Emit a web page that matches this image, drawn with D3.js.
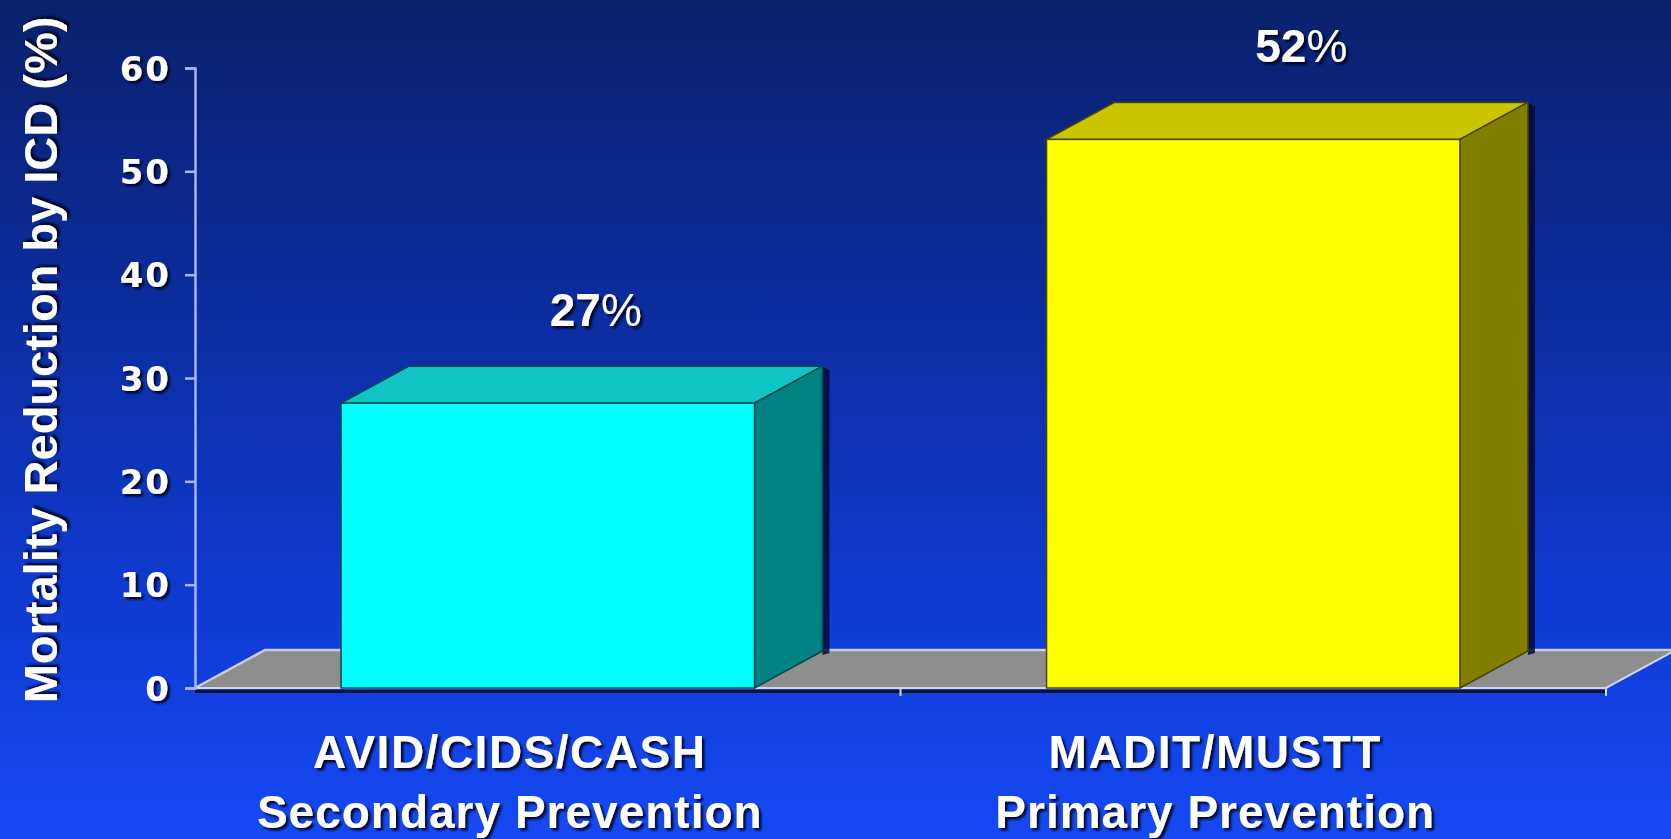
<!DOCTYPE html>
<html>
<head>
<meta charset="utf-8">
<script src="https://cdn.jsdelivr.net/npm/d3@7"></script>
<style>
  html, body { margin: 0; padding: 0; background: #0a216c; }
  svg { display: block; }
  text { font-family: "Liberation Sans", Arial, sans-serif; font-weight: bold; fill: #ffffff; }
</style>
</head>
<body>
<svg id="chart" width="1671" height="839"></svg>
<script>
// chart data
const categories = ["AVID/CIDS/CASH", "MADIT/MUSTT"];
const subtitles = ["Secondary Prevention", "Primary Prevention"];
const values = [27, 52];
const valueLabels = ["27", "52"];
const yTicks = [0, 10, 20, 30, 40, 50, 60];
const yTitle = "Mortality Reduction by ICD (%)";

// face colours: front, top, side, outline
const palette = [
  ["#00ffff", "#10c4c4", "#008282", "#004a4a"],
  ["#ffff00", "#cbc500", "#827e00", "#4a4600"]
];

const W = 1671, H = 839;
const x0 = 195, x1 = 1606, base = 688;
const dx = 68, dy = -37;

const svg = d3.select("#chart");
const defs = svg.append("defs");

const grad = defs.append("linearGradient").attr("id", "bg")
  .attr("x1", 0).attr("y1", 0).attr("x2", 0).attr("y2", 1);
grad.append("stop").attr("offset", 0).attr("stop-color", "#0a216c");
grad.append("stop").attr("offset", 0.35).attr("stop-color", "#0c2c9c");
grad.append("stop").attr("offset", 0.7).attr("stop-color", "#0f3ad0");
grad.append("stop").attr("offset", 1).attr("stop-color", "#1549f4");

const sh = defs.append("filter").attr("id", "shadow")
  .attr("x", "-10%").attr("y", "-20%").attr("width", "130%").attr("height", "150%");
sh.append("feDropShadow").attr("dx", 2.5).attr("dy", 2.5)
  .attr("stdDeviation", 1).attr("flood-color", "#000018").attr("flood-opacity", 0.9);

svg.append("rect").attr("width", W).attr("height", H).attr("fill", "url(#bg)");

// scales
const x = d3.scaleBand().domain(categories).range([x0, x1])
  .paddingInner(0.414).paddingOuter(0.207);
const y = d3.scaleLinear().domain([0, 60]).range([base, 68]);
// front faces sit slightly forward of the axis plane
const yFront = d3.scaleLinear().domain([0, 60]).range([base, base - 60 * 10.55]);

// floor
const floor = svg.append("g");
floor.append("polygon")
  .attr("points", [[x0, base], [x1, base], [x1 + dx + 2, base + dy - 1], [x0 + dx + 2, base + dy - 1]].join(" "))
  .attr("fill", "#8e8e8e");
floor.append("line").attr("x1", x0).attr("x2", x1).attr("y1", base + 3.5).attr("y2", base + 3.5)
  .attr("stroke", "#06103c").attr("stroke-width", 3);
floor.append("polyline")
  .attr("points", [[x0, base], [x0 + dx + 2, base + dy - 1], [x1 + dx + 2, base + dy - 1]].join(" "))
  .attr("fill", "none").attr("stroke", "#c9cde6").attr("stroke-width", 2.5);
floor.append("polyline")
  .attr("points", [[x0, base], [x1, base], [x1 + dx + 2, base + dy - 1]].join(" "))
  .attr("fill", "none").attr("stroke", "#d2d6ec").attr("stroke-width", 2);
floor.selectAll("line.cat").data([(x(categories[1]) + x(categories[0]) + x.bandwidth()) / 2, x1])
  .join("line").attr("class", "cat")
  .attr("x1", d => d).attr("x2", d => d).attr("y1", base).attr("y2", base + 8)
  .attr("stroke", "#d2d6ec").attr("stroke-width", 2);

// bars
const bars = svg.selectAll("g.bar").data(values).join("g").attr("class", "bar");
bars.each(function (v, i) {
  const g = d3.select(this);
  const l = x(categories[i]), r = l + x.bandwidth(), t = yFront(v);
  const c = palette[i];
  g.append("polygon")
    .attr("points", [[r + dx, t + dy], [r + dx + 7, t + dy + 4], [r + dx + 7, base + dy + 2], [r + dx, base + dy + 4]].join(" "))
    .attr("fill", "#020a3a").attr("opacity", 0.85);
  g.append("polygon")
    .attr("points", [[l, t], [r, t], [r + dx, t + dy], [l + dx, t + dy]].join(" "))
    .attr("fill", c[1]).attr("stroke", c[3]).attr("stroke-width", 1.5).attr("stroke-linejoin", "round");
  g.append("polygon")
    .attr("points", [[r, t], [r + dx, t + dy], [r + dx, base + dy], [r, base]].join(" "))
    .attr("fill", c[2]).attr("stroke", c[3]).attr("stroke-width", 1.5).attr("stroke-linejoin", "round");
  g.append("rect")
    .attr("x", l).attr("y", t).attr("width", x.bandwidth()).attr("height", base - t)
    .attr("fill", c[0]).attr("stroke", c[3]).attr("stroke-width", 1.5);
});

// value labels (the % sign is lighter in the original)
const val = svg.selectAll("text.val").data(values).join("text").attr("class", "val")
  .attr("x", (d, i) => x(categories[i]) + x.bandwidth() / 2 + 48)
  .attr("y", d => yFront(d) + dy - 40)
  .attr("text-anchor", "middle").attr("font-size", 46)
  .attr("filter", "url(#shadow)");
val.append("tspan").text((d, i) => valueLabels[i]);
val.append("tspan").attr("font-weight", "normal").text("%");

// y axis
const axis = svg.append("g").attr("transform", `translate(${x0},0)`)
  .call(d3.axisLeft(y).tickValues(yTicks).tickSize(10).tickPadding(14).tickFormat(d3.format("d")));
axis.select(".domain").attr("stroke", "#aab6f4").attr("stroke-width", 2.5);
axis.selectAll(".tick line").attr("stroke", "#aab6f4").attr("stroke-width", 2.5);
axis.selectAll(".tick text")
  .attr("fill", "#ffffff").attr("font-size", 34).attr("dy", "0.36em")
  .style("font-family", "'DejaVu Sans', sans-serif").style("font-weight", "bold")
  .attr("letter-spacing", 2)
  .attr("filter", "url(#shadow)");

// y title
svg.append("text")
  .attr("transform", "translate(57,360) rotate(-90)")
  .attr("text-anchor", "middle").attr("font-size", 47)
  .attr("filter", "url(#shadow)")
  .text(yTitle);

// category labels
const cat = svg.selectAll("g.cat").data(categories).join("g").attr("class", "cat")
  .attr("transform", d => `translate(${x(d) + x.bandwidth() / 2 - 38},0)`)
  .attr("filter", "url(#shadow)");
cat.append("text").attr("y", 768).attr("text-anchor", "middle")
  .attr("font-size", 46).attr("letter-spacing", 1.5).text(d => d);
cat.append("text").attr("y", 828).attr("text-anchor", "middle")
  .attr("font-size", 46).attr("letter-spacing", 1).text((d, i) => subtitles[i]);
</script>
</body>
</html>
